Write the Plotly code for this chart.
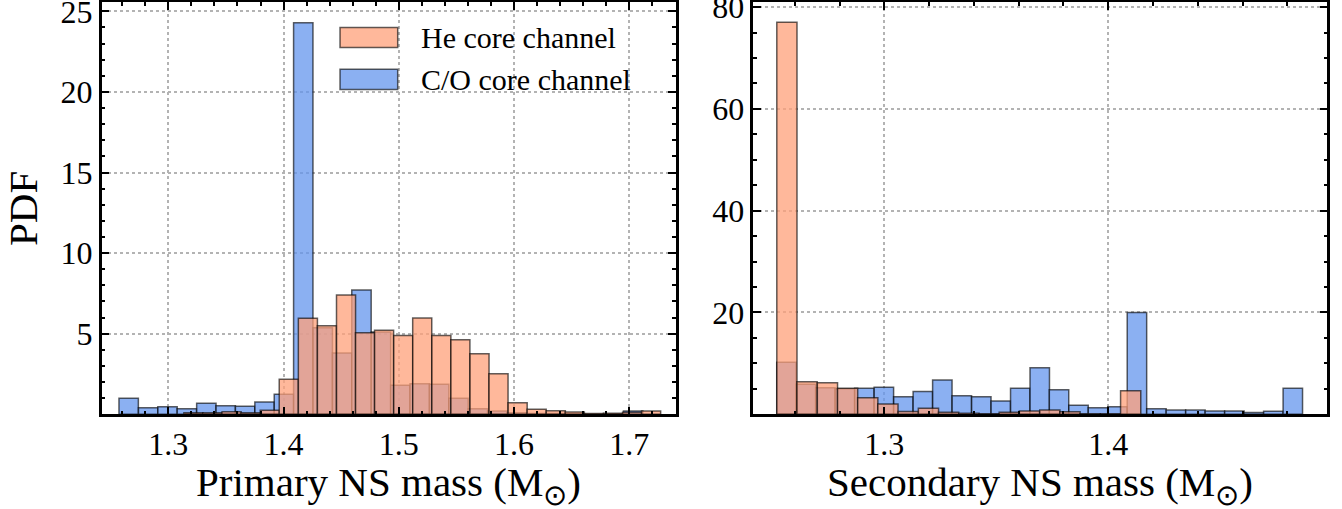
import plotly.graph_objects as go

# ---------------- data ----------------
# Left panel: primary NS mass, bin centres (Msun) and PDF values
prim_co_mass = [1.2656, 1.2825, 1.2993, 1.3161, 1.3330, 1.3498, 1.3666, 1.3835, 1.4003,
                1.4171, 1.4340, 1.4508, 1.4676, 1.4845, 1.5013, 1.5181, 1.5350, 1.5518,
                1.5686, 1.5855, 1.6023, 1.6191, 1.6360, 1.6528, 1.6696, 1.6865, 1.7033]
prim_co_pdf = [0.99, 0.41, 0.47, 0.35, 0.68, 0.53, 0.50, 0.76, 1.24,
               24.3, 5.37, 3.8, 7.71, 5.1, 1.8, 1.9, 1.86, 1.0,
               0.35, 0.2, 0.1, 0.05, 0.05, 0.03, 0.02, 0.03, 0.2]
prim_co_binw = 0.01683

prim_he_mass = [1.3218, 1.3383, 1.3549, 1.3714, 1.3880, 1.4045, 1.4211, 1.4376, 1.4542,
                1.4707, 1.4872, 1.5038, 1.5203, 1.5369, 1.5534, 1.5700, 1.5865, 1.6031,
                1.6196, 1.6362, 1.6527, 1.6693, 1.6858, 1.7024, 1.7189]
prim_he_pdf = [0.1, 0.1, 0.15, 0.1, 0.25, 2.17, 5.96, 5.50, 7.40,
               5.06, 5.21, 4.88, 5.97, 4.88, 4.63, 3.76, 2.52, 0.72,
               0.31, 0.22, 0.14, 0.05, 0.07, 0.12, 0.2]
prim_he_binw = 0.01655

# Right panel: secondary NS mass
sec_co_mass = [1.2563, 1.2650, 1.2737, 1.2824, 1.2911, 1.2998, 1.3085, 1.3172, 1.3259,
               1.3346, 1.3433, 1.3520, 1.3607, 1.3694, 1.3780, 1.3867, 1.3954, 1.4041,
               1.4128, 1.4215, 1.4302, 1.4389, 1.4476, 1.4563, 1.4650, 1.4737, 1.4824]
sec_co_pdf = [10.2, 5.9, 5.2, 5.0, 5.1, 5.3, 3.46, 4.45, 6.74,
              3.66, 3.46, 2.6, 5.1, 9.16, 4.84, 1.76, 1.3, 1.5,
              20.0, 1.1, 0.85, 0.85, 0.65, 0.65, 0.35, 0.58, 5.1]
sec_co_binw = 0.008692

sec_he_mass = [1.2565, 1.2655, 1.2746, 1.2836, 1.2926, 1.3016, 1.3107, 1.3197, 1.3287,
               1.3378, 1.3468, 1.3558, 1.3648, 1.3739, 1.3829, 1.3919, 1.4010, 1.4100]
sec_he_pdf = [77.0, 6.4, 6.2, 5.1, 3.26, 2.0, 0.55, 1.18, 0.4,
              0.2, 0.1, 0.4, 0.65, 0.85, 0.5, 0.1, 0.1, 4.64]
sec_he_binw = 0.009027

labels = ["He core channel", "C/O core channel"]
xtitles = ["Primary NS mass (M<sub>⊙</sub>)", "Secondary NS mass (M<sub>⊙</sub>)"]
prim_xticks = [1.3, 1.4, 1.5, 1.6, 1.7]
prim_yticks = [5, 10, 15, 20, 25]
sec_xticks = [1.3, 1.4]
sec_yticks = [20, 40, 60, 80]

# ---------------- styling ----------------
BLUE = "rgba(100,149,237,0.75)"
ORANGE = "rgba(255,160,122,0.75)"
EDGE = "rgba(0,0,0,0.62)"
FONT = "Liberation Serif"

fig = go.Figure()


def add_hist(x, y, w, color, name, xa, ya):
    fig.add_trace(go.Bar(
        x=x, y=y, width=[w] * len(x), name=name,
        marker=dict(color=color, line=dict(color=EDGE, width=1.5)),
        xaxis=xa, yaxis=ya, showlegend=False,
    ))


add_hist(prim_co_mass, prim_co_pdf, prim_co_binw, BLUE, labels[1], "x", "y")
add_hist(prim_he_mass, prim_he_pdf, prim_he_binw, ORANGE, labels[0], "x", "y")
add_hist(sec_co_mass, sec_co_pdf, sec_co_binw, BLUE, labels[1], "x2", "y2")
add_hist(sec_he_mass, sec_he_pdf, sec_he_binw, ORANGE, labels[0], "x2", "y2")

common = dict(
    showline=True, linecolor="black", linewidth=2.5, mirror="allticks",
    ticks="inside", ticklen=8, tickwidth=1.8, tickcolor="black",
    showgrid=True, gridcolor="#b3b3b3", griddash="dot", gridwidth=1.5,
    zeroline=False, tickfont=dict(family=FONT, size=32, color="black"),
    tickmode="array",
)
title_font = dict(family=FONT, size=41, color="black")

YDOM = [0.1861, 0.9951]

fig.update_layout(
    width=1342, height=509,
    margin=dict(l=0, r=0, t=0, b=0, autoexpand=False),
    paper_bgcolor="white", plot_bgcolor="white",
    barmode="overlay",
    font=dict(family=FONT, color="black"),
    xaxis=dict(common, domain=[0.07578, 0.50373], range=[1.2422, 1.7405],
               tickvals=prim_xticks, ticktext=[f"{v:.1f}" for v in prim_xticks],
               minor=dict(ticks="inside", ticklen=4, tickwidth=1.5, tickcolor="black",
                          tickmode="linear", tick0=1.2, dtick=0.02, showgrid=False),
               anchor="y"),
    yaxis=dict(common, domain=YDOM, range=[0, 25.55], ticklabeloverflow="allow",
               tickvals=prim_yticks, ticktext=[str(v) for v in prim_yticks],
               minor=dict(ticks="inside", ticklen=4, tickwidth=1.5, tickcolor="black",
                          tickmode="linear", tick0=0, dtick=1, showgrid=False),
               title=dict(text="PDF", font=title_font, standoff=14),
               anchor="x"),
    xaxis2=dict(common, domain=[0.56133, 0.98905], range=[1.2415, 1.4978],
                tickvals=sec_xticks, ticktext=[f"{v:.1f}" for v in sec_xticks],
                minor=dict(ticks="inside", ticklen=4, tickwidth=1.5, tickcolor="black",
                           tickmode="linear", tick0=1.2, dtick=0.02, showgrid=False),
                anchor="y2"),
    yaxis2=dict(common, domain=YDOM, range=[0, 80.9], ticklabeloverflow="allow",
                tickvals=sec_yticks, ticktext=[str(v) for v in sec_yticks],
                minor=dict(ticks="inside", ticklen=4, tickwidth=1.5, tickcolor="black",
                           tickmode="linear", tick0=0, dtick=5, showgrid=False),
                anchor="x2"),
)

# x-axis titles placed below the tick labels
for xref, text in zip(["x domain", "x2 domain"], xtitles):
    fig.add_annotation(xref=xref, yref="paper", x=0.5, y=0.1022,
                       text=text, showarrow=False, xanchor="center", yanchor="top",
                       font=title_font)

# manual legend (no frame) inside left panel
legend_rows = [(labels[0], ORANGE, 0.939, 0.8905), (labels[1], BLUE, 0.8377, 0.789)]
for text, color, ytop, ybot in legend_rows:
    fig.add_shape(type="rect", xref="x domain", yref="y domain",
                  x0=0.415, x1=0.5154, y0=ybot, y1=ytop,
                  fillcolor=color, line=dict(color=EDGE, width=1.5))
    fig.add_annotation(xref="x domain", yref="y domain", x=0.552, y=(ytop + ybot) / 2,
                       text=text, showarrow=False, xanchor="left", yanchor="middle",
                       font=dict(family=FONT, size=30, color="black"))

fig.write_html("out.html")
